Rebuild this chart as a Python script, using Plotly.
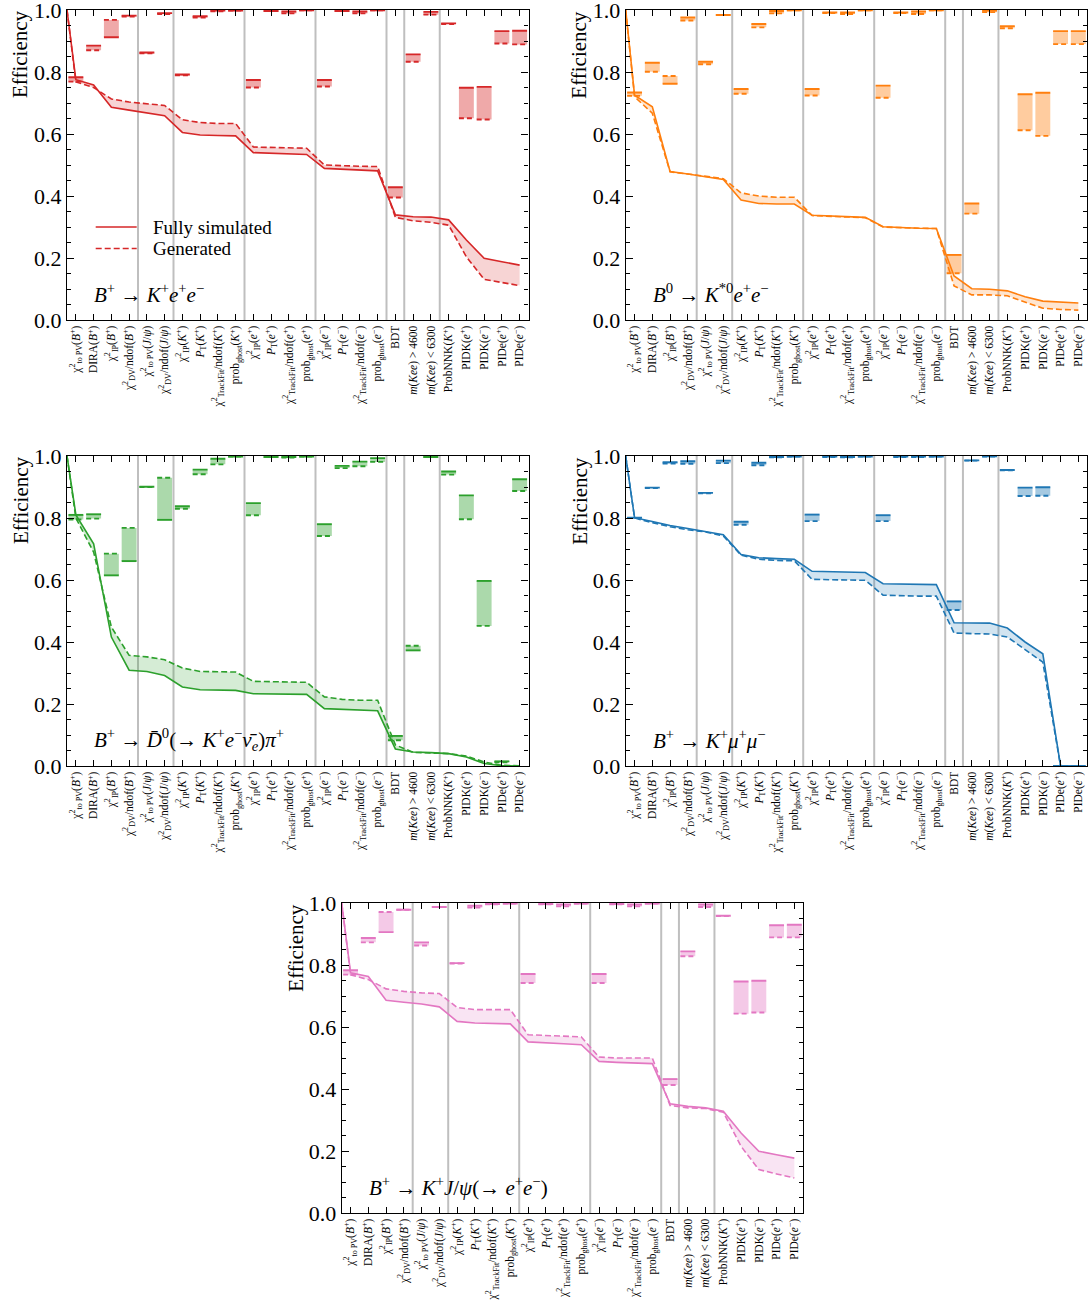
import plotly.graph_objects as go

# ---------------------------------------------------------------- selection cuts
CUTS = [
    "χ<sup>2</sup><sub>to PV</sub>(<i>B</i><sup>+</sup>)",
    "DIRA(<i>B</i><sup>+</sup>)",
    "χ<sup>2</sup><sub>IP</sub>(<i>B</i><sup>+</sup>)",
    "χ<sup>2</sup><sub>DV</sub>/ndof(<i>B</i><sup>+</sup>)",
    "χ<sup>2</sup><sub>to PV</sub>(<i>J</i>/<i>ψ</i>)",
    "χ<sup>2</sup><sub>DV</sub>/ndof(<i>J</i>/<i>ψ</i>)",
    "χ<sup>2</sup><sub>IP</sub>(<i>K</i><sup>+</sup>)",
    "<i>P</i><sub>T</sub>(<i>K</i><sup>+</sup>)",
    "χ<sup>2</sup><sub>TrackFit</sub>/ndof(<i>K</i><sup>+</sup>)",
    "prob<sub>ghost</sub>(<i>K</i><sup>+</sup>)",
    "χ<sup>2</sup><sub>IP</sub>(<i>e</i><sup>+</sup>)",
    "<i>P</i><sub>T</sub>(<i>e</i><sup>+</sup>)",
    "χ<sup>2</sup><sub>TrackFit</sub>/ndof(<i>e</i><sup>+</sup>)",
    "prob<sub>ghost</sub>(<i>e</i><sup>+</sup>)",
    "χ<sup>2</sup><sub>IP</sub>(<i>e</i><sup>−</sup>)",
    "<i>P</i><sub>T</sub>(<i>e</i><sup>−</sup>)",
    "χ<sup>2</sup><sub>TrackFit</sub>/ndof(<i>e</i><sup>−</sup>)",
    "prob<sub>ghost</sub>(<i>e</i><sup>−</sup>)",
    "BDT",
    "<i>m</i>(<i>Kee</i>) &gt; 4600",
    "<i>m</i>(<i>Kee</i>) &lt; 6300",
    "ProbNNK(<i>K</i><sup>+</sup>)",
    "PIDK(<i>e</i><sup>+</sup>)",
    "PIDK(<i>e</i><sup>−</sup>)",
    "PIDe(<i>e</i><sup>+</sup>)",
    "PIDe(<i>e</i><sup>−</sup>)",
]

# boundaries between groups of cuts
GROUP_EDGES = [3.5, 5.5, 9.5, 13.5, 17.5, 18.5, 20.5]

# ---------------------------------------------------------------- B+ -> K+ e+ e-
kee_cum_full = [0.775, 0.758, 0.686, 0.677, 0.668, 0.659, 0.605, 0.597, 0.595, 0.594, 0.540, 0.538, 0.536,
                0.534, 0.489, 0.486, 0.484, 0.481, 0.339, 0.333, 0.332, 0.323, 0.258, 0.199, 0.188, 0.177]
kee_cum_gen = [0.768, 0.750, 0.713, 0.703, 0.697, 0.692, 0.646, 0.637, 0.634, 0.634, 0.558, 0.557, 0.556,
               0.554, 0.500, 0.497, 0.496, 0.495, 0.331, 0.320, 0.315, 0.306, 0.204, 0.131, 0.120, 0.111]
kee_cut_full = [0.783, 0.885, 0.912, 0.982, 0.863, 0.990, 0.792, 0.980, 0.998, 0.998, 0.774, 0.997, 0.995,
                0.999, 0.774, 0.997, 0.995, 0.999, 0.428, 0.857, 0.994, 0.957, 0.749, 0.752, 0.932, 0.933]
kee_cut_gen = [0.769, 0.870, 0.968, 0.979, 0.860, 0.987, 0.789, 0.976, 0.996, 0.998, 0.750, 0.997, 0.989,
               0.999, 0.753, 0.997, 0.989, 0.999, 0.395, 0.833, 0.985, 0.955, 0.651, 0.647, 0.892, 0.889]

# ---------------------------------------------------------------- B0 -> K*0 e+ e-
kstee_cum_full = [0.725, 0.688, 0.479, 0.471, 0.462, 0.453, 0.387, 0.376, 0.374, 0.374, 0.338, 0.335, 0.333,
                  0.331, 0.301, 0.298, 0.296, 0.295, 0.142, 0.101, 0.099, 0.094, 0.075, 0.061, 0.058, 0.055]
kstee_cum_gen = [0.720, 0.667, 0.478, 0.471, 0.463, 0.456, 0.410, 0.400, 0.396, 0.396, 0.337, 0.335, 0.332,
                 0.330, 0.300, 0.297, 0.296, 0.295, 0.110, 0.081, 0.081, 0.078, 0.059, 0.038, 0.034, 0.032]
kstee_cut_full = [0.734, 0.830, 0.762, 0.976, 0.833, 0.984, 0.745, 0.955, 0.997, 0.999, 0.745, 0.992, 0.992,
                  0.999, 0.756, 0.992, 0.995, 0.999, 0.210, 0.376, 0.998, 0.948, 0.728, 0.733, 0.932, 0.932]
kstee_cut_gen = [0.723, 0.801, 0.787, 0.966, 0.825, 0.984, 0.730, 0.944, 0.989, 0.999, 0.724, 0.990, 0.987,
                 0.999, 0.717, 0.990, 0.987, 0.999, 0.151, 0.343, 0.993, 0.941, 0.612, 0.594, 0.890, 0.890]

# ---------------------------------------------------------------- B+ -> D0bar(-> K+ e- nu) pi+
dpi_cum_full = [0.810, 0.717, 0.416, 0.309, 0.305, 0.292, 0.255, 0.246, 0.244, 0.244, 0.233, 0.232, 0.232,
                0.231, 0.185, 0.182, 0.180, 0.178, 0.055, 0.045, 0.043, 0.040, 0.029, 0.008, 0.001, 0.000]
dpi_cum_gen = [0.800, 0.690, 0.448, 0.357, 0.352, 0.343, 0.316, 0.305, 0.303, 0.303, 0.273, 0.271, 0.271,
               0.270, 0.223, 0.215, 0.212, 0.212, 0.068, 0.044, 0.043, 0.040, 0.032, 0.013, 0.002, 0.001]
dpi_cut_full = [0.810, 0.812, 0.615, 0.661, 0.901, 0.794, 0.838, 0.956, 0.991, 0.998, 0.848, 0.997, 0.997,
                0.998, 0.780, 0.968, 0.982, 0.993, 0.097, 0.373, 0.997, 0.950, 0.873, 0.597, 0.015, 0.925]
dpi_cut_gen = [0.795, 0.798, 0.685, 0.768, 0.900, 0.930, 0.830, 0.941, 0.973, 0.998, 0.809, 0.997, 0.995,
               0.998, 0.742, 0.961, 0.967, 0.981, 0.083, 0.388, 0.997, 0.940, 0.796, 0.452, 0.012, 0.887]

# ---------------------------------------------------------------- B+ -> K+ mu+ mu-
kmm_cum_full = [0.801, 0.789, 0.776, 0.766, 0.757, 0.746, 0.682, 0.672, 0.669, 0.667, 0.628, 0.627, 0.626,
                0.624, 0.588, 0.587, 0.586, 0.585, 0.462, 0.462, 0.461, 0.445, 0.400, 0.362, 0.000, 0.000]
kmm_cum_gen = [0.800, 0.785, 0.772, 0.762, 0.755, 0.742, 0.680, 0.667, 0.663, 0.662, 0.602, 0.601, 0.600,
               0.599, 0.551, 0.549, 0.548, 0.548, 0.429, 0.427, 0.426, 0.416, 0.376, 0.335, 0.000, 0.000]
kmm_cut_full = [0.801, 0.898, 0.980, 0.983, 0.881, 0.985, 0.788, 0.978, 0.997, 0.998, 0.811, 0.998, 0.997,
                0.998, 0.809, 0.998, 0.998, 0.998, 0.531, 0.986, 0.999, 0.955, 0.898, 0.899, 0.000, 0.000]
kmm_cut_gen = [0.800, 0.897, 0.976, 0.975, 0.880, 0.977, 0.778, 0.970, 0.996, 0.998, 0.790, 0.997, 0.996,
               0.998, 0.790, 0.997, 0.997, 0.998, 0.503, 0.985, 0.998, 0.954, 0.871, 0.872, 0.000, 0.000]

# ---------------------------------------------------------------- B+ -> K+ J/psi(-> e+ e-)
kjpsi_cum_full = [0.775, 0.763, 0.686, 0.680, 0.674, 0.665, 0.618, 0.613, 0.611, 0.610, 0.552, 0.548, 0.546,
                  0.543, 0.489, 0.486, 0.484, 0.482, 0.352, 0.344, 0.339, 0.328, 0.258, 0.199, 0.188, 0.177]
kjpsi_cum_gen = [0.768, 0.753, 0.723, 0.715, 0.710, 0.708, 0.663, 0.656, 0.656, 0.656, 0.575, 0.573, 0.570,
                 0.568, 0.503, 0.500, 0.500, 0.500, 0.347, 0.339, 0.337, 0.325, 0.215, 0.140, 0.126, 0.113]
kjpsi_cut_full = [0.783, 0.887, 0.906, 0.978, 0.873, 0.987, 0.806, 0.991, 0.997, 0.998, 0.771, 0.997, 0.995,
                  0.998, 0.771, 0.997, 0.995, 0.998, 0.432, 0.844, 0.995, 0.959, 0.747, 0.749, 0.928, 0.930]
kjpsi_cut_gen = [0.769, 0.873, 0.971, 0.978, 0.863, 0.987, 0.805, 0.985, 0.996, 0.998, 0.742, 0.996, 0.989,
                 0.998, 0.742, 0.996, 0.989, 0.998, 0.413, 0.828, 0.987, 0.958, 0.643, 0.647, 0.889, 0.889]

SERIF = "Liberation Serif"
W, H = 1092, 1307

channels = [
    dict(label="<i>B</i><sup>+</sup> → <i>K</i><sup>+</sup><i>e</i><sup>+</sup><i>e</i><sup>−</sup>",
         rgb=(214, 39, 40), data=(kee_cum_full, kee_cum_gen, kee_cut_full, kee_cut_gen),
         box=(67.0, 528.5, 10.0, 320.0)),
    dict(label="<i>B</i><sup>0</sup> → <i>K</i><sup>*0</sup><i>e</i><sup>+</sup><i>e</i><sup>−</sup>",
         rgb=(255, 127, 14), data=(kstee_cum_full, kstee_cum_gen, kstee_cut_full, kstee_cut_gen),
         box=(625.7, 1087.2, 10.0, 320.0)),
    dict(label="<i>B</i><sup>+</sup> → <i>D̄</i><sup>0</sup>(→ <i>K</i><sup>+</sup><i>e</i><sup>−</sup>"
               "<i>ν̄</i><sub><i>e</i></sub>)<i>π</i><sup>+</sup>",
         rgb=(44, 160, 44), data=(dpi_cum_full, dpi_cum_gen, dpi_cut_full, dpi_cut_gen),
         box=(67.0, 528.5, 456.0, 766.0)),
    dict(label="<i>B</i><sup>+</sup> → <i>K</i><sup>+</sup><i>μ</i><sup>+</sup><i>μ</i><sup>−</sup>",
         rgb=(31, 119, 180), data=(kmm_cum_full, kmm_cum_gen, kmm_cut_full, kmm_cut_gen),
         box=(625.7, 1087.2, 456.0, 766.0)),
    dict(label="<i>B</i><sup>+</sup> → <i>K</i><sup>+</sup><i>J</i>/<i>ψ</i>(→ <i>e</i><sup>+</sup>"
               "<i>e</i><sup>−</sup>)",
         rgb=(227, 119, 194), data=(kjpsi_cum_full, kjpsi_cum_gen, kjpsi_cut_full, kjpsi_cut_gen),
         box=(341.7, 803.2, 903.0, 1213.0)),
]

HALF = 0.42          # half width of the per-cut markers
DASH = "6px,3px"
LW = 1.6

fig = go.Figure()
shapes, annotations, axes = [], [], {}
idx = list(range(len(CUTS)))

for i, ch in enumerate(channels, start=1):
    sfx = "" if i == 1 else str(i)
    xa, ya = "x" + sfx, "y" + sfx
    r, g, b = ch["rgb"]
    col = f"rgb({r},{g},{b})"
    cum_full, cum_gen, cut_full, cut_gen = ch["data"]
    x0, x1, y0, y1 = ch["box"]

    # cumulative efficiency: generated (dashed) and fully simulated (solid) with band
    xs = [-0.5] + idx
    fig.add_trace(go.Scatter(x=xs, y=[1.0] + cum_gen, xaxis=xa, yaxis=ya, mode="lines",
                             line=dict(color=col, width=LW, dash=DASH), showlegend=False))
    fig.add_trace(go.Scatter(x=xs, y=[1.0] + cum_full, xaxis=xa, yaxis=ya, mode="lines",
                             line=dict(color=col, width=LW), fill="tonexty",
                             fillcolor=f"rgba({r},{g},{b},0.2)", showlegend=False))

    # single-cut efficiencies: boxes between the two samples
    bx, by, sx, sy, dx, dy = [], [], [], [], [], []
    for k, (f, gv) in enumerate(zip(cut_full, cut_gen)):
        bx += [k - HALF, k + HALF, k + HALF, k - HALF, k - HALF, None]
        by += [f, f, gv, gv, f, None]
        sx += [k - HALF, k + HALF, None]
        sy += [f, f, None]
        dx += [k - HALF, k + HALF, None]
        dy += [gv, gv, None]
    fig.add_trace(go.Scatter(x=bx, y=by, xaxis=xa, yaxis=ya, mode="lines", fill="toself",
                             fillcolor=f"rgba({r},{g},{b},0.4)", line=dict(width=0),
                             showlegend=False))
    fig.add_trace(go.Scatter(x=sx, y=sy, xaxis=xa, yaxis=ya, mode="lines",
                             line=dict(color=col, width=1.9), showlegend=False))
    fig.add_trace(go.Scatter(x=dx, y=dy, xaxis=xa, yaxis=ya, mode="lines",
                             line=dict(color=col, width=1.9, dash="5px,3px"), showlegend=False))

    # group separators
    for e in GROUP_EDGES:
        shapes.append(dict(type="line", xref=xa, yref=f"{ya} domain", x0=e, x1=e, y0=0, y1=1,
                           line=dict(color="rgba(128,128,128,0.5)", width=2), layer="below"))

    axes["xaxis" + sfx] = dict(
        domain=[x0 / W, x1 / W], anchor=ya, range=[-0.5, 25.5], automargin=False,
        tickvals=idx, ticktext=CUTS, tickangle=-90, ticklabeloverflow="allow",
        ticks="inside", ticklen=6, tickwidth=1, tickcolor="black",
        mirror="allticks", showline=True, linecolor="black", linewidth=1.2,
        showgrid=False, zeroline=False,
        tickfont=dict(family=SERIF, size=11.5, color="black"))
    axes["yaxis" + sfx] = dict(
        domain=[1 - y1 / H, 1 - y0 / H], anchor=xa, range=[0, 1], automargin=False,
        tick0=0, dtick=0.2, tickformat=".1f", ticklabeloverflow="allow",
        ticks="inside", ticklen=7, tickwidth=1, tickcolor="black",
        minor=dict(dtick=0.05, ticks="inside", ticklen=4, tickwidth=1, tickcolor="black",
                   showgrid=False),
        mirror="allticks", showline=True, linecolor="black", linewidth=1.2,
        showgrid=False, zeroline=False,
        tickfont=dict(family=SERIF, size=22, color="black"))

    # axis title and decay label
    annotations.append(dict(text="Efficiency", xref="paper", yref="paper",
                            x=(x0 - 46.5) / W, y=1 - (y0 + 44.5) / H, xanchor="center",
                            yanchor="middle", textangle=-90, showarrow=False,
                            font=dict(family=SERIF, size=21, color="black")))
    annotations.append(dict(text=ch["label"], xref=f"{xa} domain", yref=f"{ya} domain",
                            x=0.054, y=0.087, xanchor="left", yanchor="middle", showarrow=False,
                            font=dict(family=SERIF, size=21, color="black")))

# legend of the first panel
red = "rgb(214,39,40)"
for text, ypx, dash in [("Fully simulated", 227.0, None), ("Generated", 248.5, DASH)]:
    line = dict(color=red, width=LW)
    if dash:
        line["dash"] = dash
    shapes.append(dict(type="line", xref="paper", yref="paper", x0=95.7 / W, x1=136.7 / W,
                       y0=1 - ypx / H, y1=1 - ypx / H, line=line))
    annotations.append(dict(text=text, xref="paper", yref="paper", x=151.0 / W, y=1 - ypx / H,
                            xanchor="left", yanchor="middle", showarrow=False,
                            font=dict(family=SERIF, size=19, color="black")))

fig.update_layout(
    width=W, height=H, margin=dict(l=0, r=0, t=0, b=0, autoexpand=False),
    paper_bgcolor="white", plot_bgcolor="white",
    showlegend=False, shapes=shapes, annotations=annotations,
    font=dict(family=SERIF, color="black"),
    **axes,
)

fig.write_html("out.html")
